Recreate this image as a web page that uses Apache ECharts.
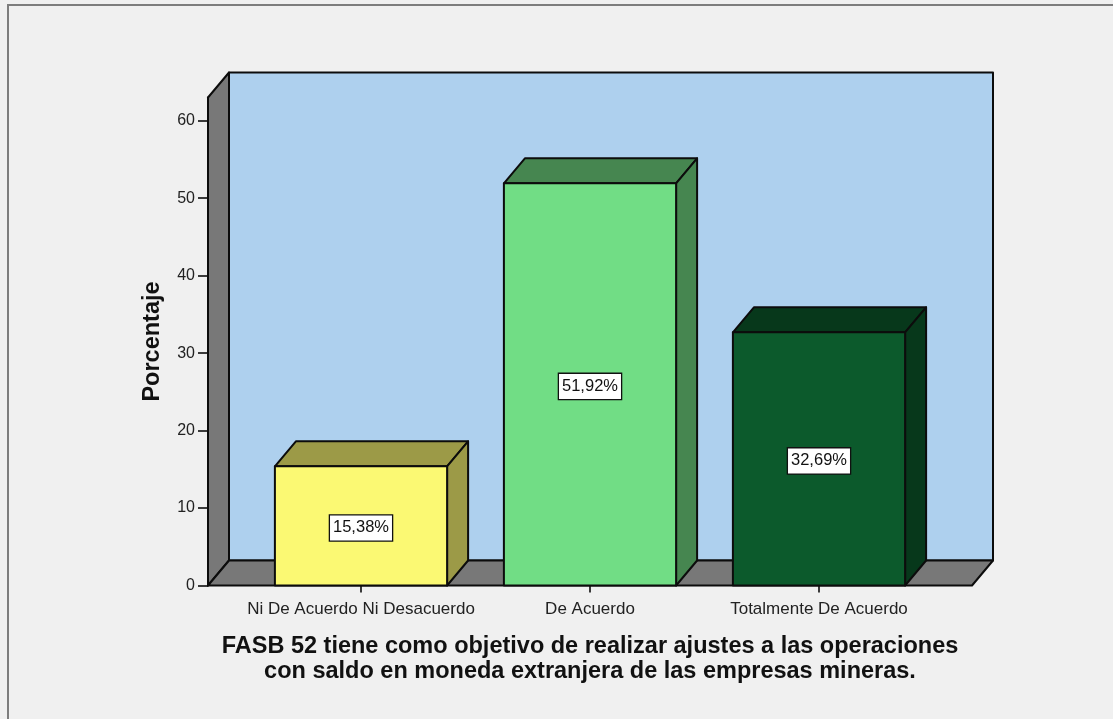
<!DOCTYPE html>
<html>
<head>
<meta charset="utf-8">
<style>html,body{margin:0;padding:0;background:#f0f0f0}#chart{width:1113px;height:719px;filter:blur(0.35px)}</style>
<script src="https://cdn.jsdelivr.net/npm/echarts@6/dist/echarts.min.js"></script>
</head>
<body>
<div id="chart"></div>
<script>
const categories = ['Ni De Acuerdo Ni Desacuerdo', 'De Acuerdo', 'Totalmente De Acuerdo'];
const percentages = [15.38, 51.92, 32.69];
const yTicks = [0, 10, 20, 30, 40, 50, 60];
const yMax = 63;
const xTitle = 'FASB 52 tiene como objetivo de realizar ajustes a las operaciones\ncon saldo en moneda extranjera de las empresas mineras.';
const yTitle = 'Porcentaje';

const frontColors = ['#fbf973', '#71dd85', '#0c5a2c'];
const sideColors = ['#9c9a47', '#468650', '#07381b'];
const depthX = 21, depthY = 25, floorPad = 38.5, ink = '#0c0c0c';
const font = '"Liberation Sans", Arial, sans-serif';

function poly(points, fill) {
  return { type: 'polygon', shape: { points }, style: { fill, stroke: ink, lineWidth: 2, lineJoin: 'round' } };
}
function renderWalls(params, api) {
  const cs = params.coordSys;
  const l = cs.x - floorPad, r = cs.x + cs.width + floorPad;
  const b = api.coord([0, 0])[1], t = api.coord([0, yMax])[1];
  const dx = depthX, dy = depthY;
  return { type: 'group', children: [
    poly([[l + dx, t - dy], [r + dx, t - dy], [r + dx, b - dy], [l + dx, b - dy]], '#aed0ee'),
    poly([[l, t], [l + dx, t - dy], [l + dx, b - dy], [l, b]], '#787878'),
    poly([[l, b], [l + dx, b - dy], [r + dx, b - dy], [r, b]], '#787878')
  ]};
}
function renderBar(params, api) {
  const i = api.value(0), v = api.value(1);
  const c = api.coord([i, v]), base = api.coord([i, 0]);
  const w = api.size([1, 0])[0] * 0.752;
  const l = c[0] - w / 2, r = c[0] + w / 2, t = c[1], b = base[1];
  const dx = depthX, dy = depthY;
  return { type: 'group', children: [
    poly([[l, t], [l + dx, t - dy], [r + dx, t - dy], [r, t]], sideColors[i]),
    poly([[r, t], [r + dx, t - dy], [r + dx, b - dy], [r, b]], sideColors[i]),
    poly([[l, t], [r, t], [r, b], [l, b]], frontColors[i]),
    { type: 'text', x: c[0], y: (t + b) / 2 + 2, style: {
      text: v.toFixed(2).replace('.', ',') + '%', fill: '#111',
      font: '16.5px ' + font, align: 'center', verticalAlign: 'middle',
      backgroundColor: '#fff', borderColor: '#111', borderWidth: 1.3, padding: [4, 3, 4, 3]
    } }
  ]};
}

const chart = echarts.init(document.getElementById('chart'), null, { renderer: 'canvas' });
chart.setOption({
  backgroundColor: '#f0f0f0',
  animation: false,
  graphic: [{ type: 'rect', silent: true, z: -1,
    shape: { x: 8, y: 5, width: 1200, height: 800 },
    style: { fill: 'none', stroke: '#7d7d7d', lineWidth: 2 } }],
  grid: { left: 246.5, width: 687, top: 97.5, height: 488, containLabel: false },
  xAxis: {
    type: 'category', data: categories,
    axisLine: { show: false },
    axisTick: { show: true, alignWithLabel: true, interval: 0, length: 7, lineStyle: { color: ink, width: 1.6 } },
    axisLabel: { color: '#222', fontFamily: font, fontSize: 17, margin: 15, interval: 0 },
    name: xTitle, nameLocation: 'middle', nameGap: 49,
    nameTextStyle: { color: '#111', fontFamily: font, fontWeight: 'bold', fontSize: 23.5, lineHeight: 25, align: 'center' }
  },
  yAxis: {
    type: 'value', min: 0, max: yMax, offset: floorPad,
    axisLine: { show: true, lineStyle: { color: ink, width: 2 } },
    axisTick: { show: true, length: 10, customValues: yTicks, lineStyle: { color: ink, width: 1.6 } },
    splitLine: { show: false },
    axisLabel: { color: '#222', fontFamily: font, fontSize: 16, margin: 13, customValues: yTicks },
    name: yTitle, nameLocation: 'middle', nameGap: 43.5,
    nameTextStyle: { color: '#111', fontFamily: font, fontWeight: 'bold', fontSize: 23.5 }
  },
  series: [
    { type: 'custom', name: 'walls', data: [[0, 0]], renderItem: renderWalls, clip: false, silent: true, z: 1 },
    { type: 'custom', name: 'Porcentaje', data: percentages.map((v, i) => [i, v]),
      encode: { x: 0, y: 1 }, renderItem: renderBar, clip: false, silent: true, z: 3 }
  ]
});
</script>
</body>
</html>
